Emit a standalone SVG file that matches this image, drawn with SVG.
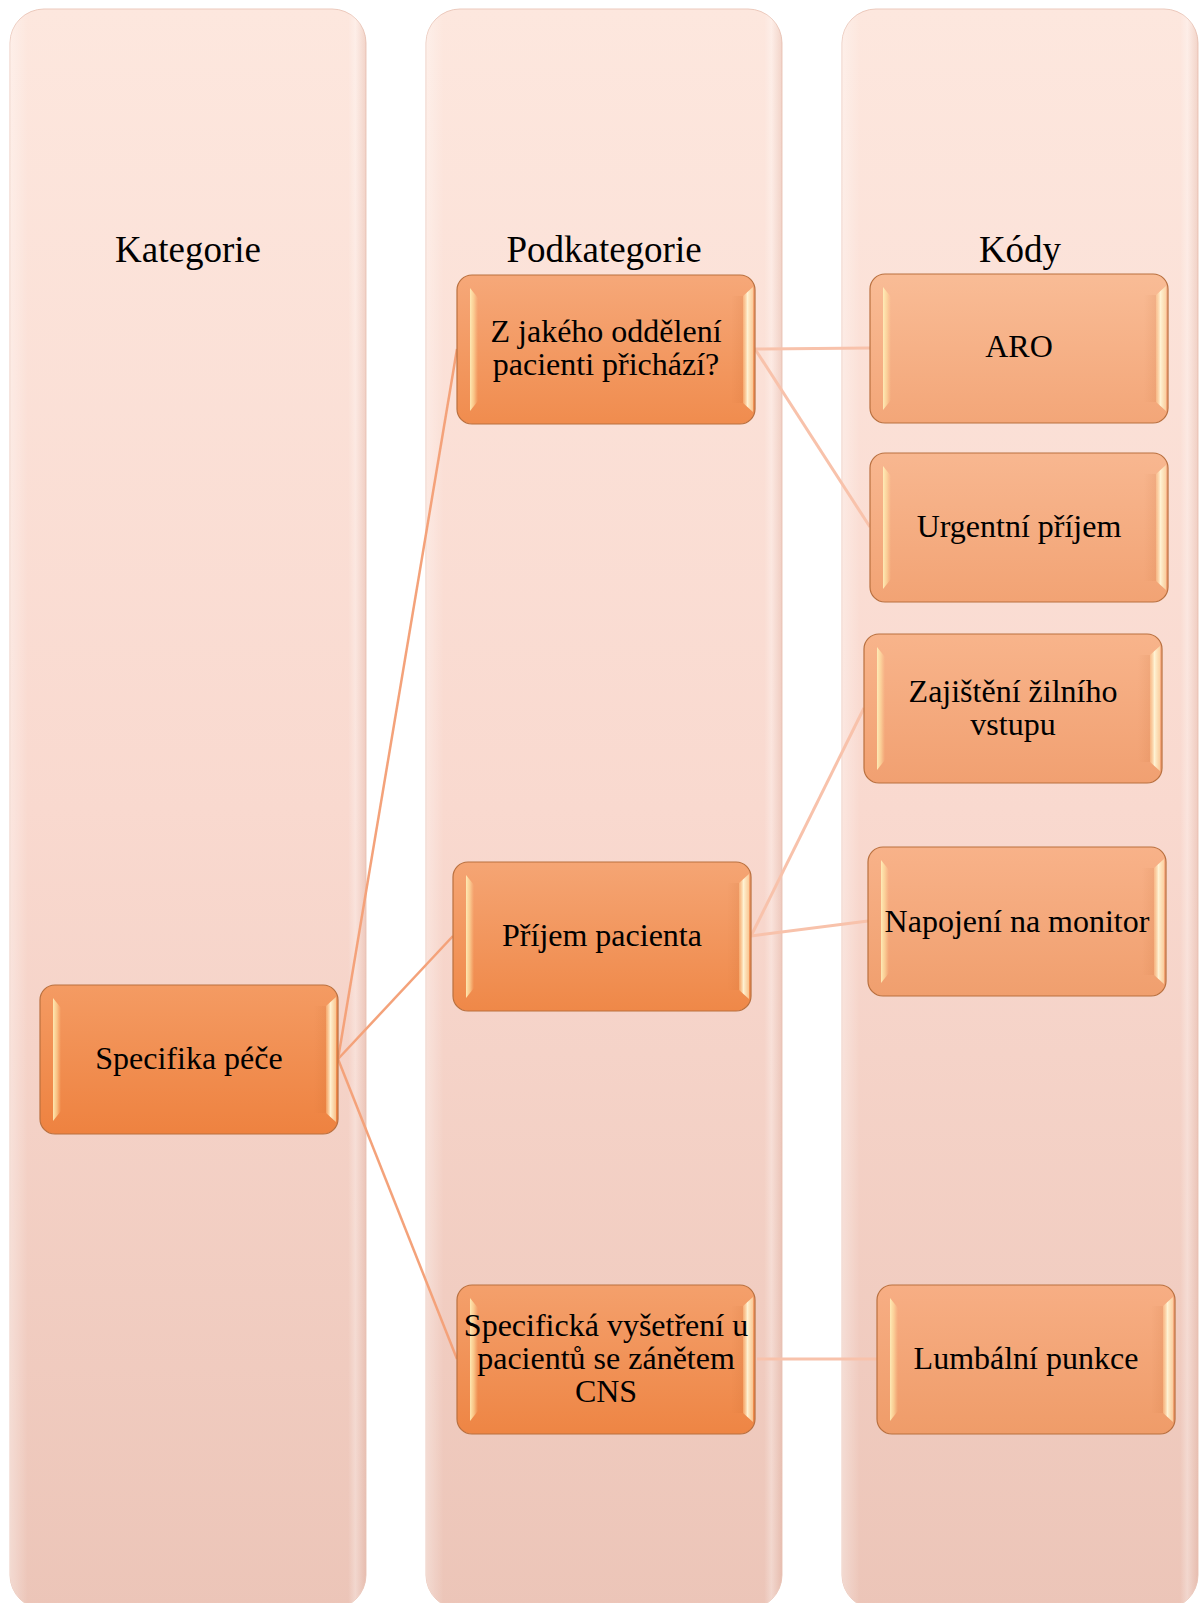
<svg xmlns="http://www.w3.org/2000/svg" xmlns:xlink="http://www.w3.org/1999/xlink" width="1202" height="1603" viewBox="0 0 1202 1603">
<defs>
<style>
.col{fill:url(#colGrad);stroke:#ecc9bc;stroke-width:1}
.colhl{fill:url(#colSide)}
.hdr{font-family:"Liberation Serif","Times New Roman",serif;font-size:37px;fill:#000;text-anchor:middle}
.lbl{font-family:"Liberation Serif","Times New Roman",serif;font-size:32px;fill:#000;text-anchor:middle}
.box{stroke:#b9703f;stroke-width:1.2}
.c1{stroke:#f4a27a;stroke-width:2.5;fill:none}
.c2{stroke:#f8c2ab;stroke-width:3;fill:none}
</style>
<linearGradient id="colGrad" x1="0" y1="0" x2="0" y2="1">
<stop offset="0" stop-color="#fde7de"/>
<stop offset="0.5" stop-color="#f9d9cf"/>
<stop offset="1" stop-color="#ecc5b8"/>
</linearGradient>
<linearGradient id="colSide" x1="0" y1="0" x2="1" y2="0">
<stop offset="0" stop-color="#ffffff" stop-opacity="0.35"/>
<stop offset="0.05" stop-color="#ffffff" stop-opacity="0"/>
<stop offset="0.95" stop-color="#ffffff" stop-opacity="0"/>
<stop offset="0.97" stop-color="#ffffff" stop-opacity="0.3"/>
<stop offset="1" stop-color="#d9a898" stop-opacity="0.3"/>
</linearGradient>
<linearGradient id="gA" x1="0" y1="0" x2="0" y2="1"><stop offset="0" stop-color="#f49b63"/><stop offset="1" stop-color="#ee8240"/></linearGradient>
<linearGradient id="gB" x1="0" y1="0" x2="0" y2="1"><stop offset="0" stop-color="#f6a879"/><stop offset="1" stop-color="#f08c4e"/></linearGradient>
<linearGradient id="gP" x1="0" y1="0" x2="0" y2="1"><stop offset="0" stop-color="#f5a574"/><stop offset="1" stop-color="#ef8848"/></linearGradient>
<linearGradient id="gS" x1="0" y1="0" x2="0" y2="1"><stop offset="0" stop-color="#f4a06c"/><stop offset="1" stop-color="#ee8544"/></linearGradient>
<linearGradient id="gC1" x1="0" y1="0" x2="0" y2="1"><stop offset="0" stop-color="#f9bc96"/><stop offset="1" stop-color="#f3a678"/></linearGradient>
<linearGradient id="gC2" x1="0" y1="0" x2="0" y2="1"><stop offset="0" stop-color="#f8b790"/><stop offset="1" stop-color="#f2a374"/></linearGradient>
<linearGradient id="gC3" x1="0" y1="0" x2="0" y2="1"><stop offset="0" stop-color="#f8b48b"/><stop offset="1" stop-color="#f1a071"/></linearGradient>
<linearGradient id="gC4" x1="0" y1="0" x2="0" y2="1"><stop offset="0" stop-color="#f8b289"/><stop offset="1" stop-color="#f09f6e"/></linearGradient>
<linearGradient id="gC5" x1="0" y1="0" x2="0" y2="1"><stop offset="0" stop-color="#f7ae84"/><stop offset="1" stop-color="#ef9c69"/></linearGradient>
<linearGradient id="hlL" x1="0" y1="0" x2="1" y2="0"><stop offset="0" stop-color="#fff2bc" stop-opacity="0.9"/><stop offset="0.5" stop-color="#ffe6a8" stop-opacity="0.6"/><stop offset="1" stop-color="#ffd9a0" stop-opacity="0"/></linearGradient>
<linearGradient id="hlR" x1="0" y1="0" x2="1" y2="0"><stop offset="0" stop-color="#ffd9a0" stop-opacity="0.3"/><stop offset="0.45" stop-color="#fff6d8" stop-opacity="0.95"/><stop offset="1" stop-color="#ffe8b8" stop-opacity="0.6"/></linearGradient>
<linearGradient id="shR" x1="0" y1="0" x2="1" y2="0"><stop offset="0" stop-color="#b85a20" stop-opacity="0"/><stop offset="1" stop-color="#b85a20" stop-opacity="0.1"/></linearGradient>
<g id="bevel">
<polygon points="13,13 21,23 21,126 13,136" fill="url(#hlL)"/>
<polygon points="274,21 286,21 286,128 274,128" fill="url(#shR)"/>
<polygon points="286,21 296,12 296,137 286,128" fill="url(#hlR)"/>
</g>
</defs>
<rect width="1202" height="1603" fill="#ffffff"/>
<g id="columns">
<g id="col-kategorie">
<rect class="col" x="10" y="9" width="356" height="1600" rx="34"/>
<rect class="colhl" x="10" y="9" width="356" height="1600" rx="34"/>
<text class="hdr" x="188" y="262">Kategorie</text>
</g>
<g id="col-podkategorie">
<rect class="col" x="426" y="9" width="356" height="1600" rx="34"/>
<rect class="colhl" x="426" y="9" width="356" height="1600" rx="34"/>
<text class="hdr" x="604" y="262">Podkategorie</text>
</g>
<g id="col-kody">
<rect class="col" x="842" y="9" width="356" height="1600" rx="34"/>
<rect class="colhl" x="842" y="9" width="356" height="1600" rx="34"/>
<text class="hdr" x="1020" y="262">Kódy</text>
</g>
</g>
<g id="connectors">
<line class="c1" x1="338" y1="1059" x2="457" y2="349"/>
<line class="c1" x1="338" y1="1059" x2="453" y2="936"/>
<line class="c1" x1="338" y1="1059" x2="457" y2="1359"/>
<line class="c2" x1="755" y1="349" x2="870" y2="348"/>
<line class="c2" x1="755" y1="349" x2="870" y2="527"/>
<line class="c2" x1="751" y1="936" x2="864" y2="708"/>
<line class="c2" x1="751" y1="936" x2="868" y2="921"/>
<line class="c2" x1="757" y1="1359" x2="877" y2="1359"/>
</g>
<g id="node-specifika-pece" transform="translate(40,985)">
<rect class="box" width="298" height="149" rx="15" fill="url(#gA)"/>
<use xlink:href="#bevel" href="#bevel"/>
<text class="lbl" x="149" y="84">Specifika péče</text>
</g>
<g id="node-z-jakeho" transform="translate(457,275)">
<rect class="box" width="298" height="149" rx="15" fill="url(#gB)"/>
<use xlink:href="#bevel" href="#bevel"/>
<text class="lbl" x="149" y="67">Z jakého oddělení</text>
<text class="lbl" x="149" y="100">pacienti přichází?</text>
</g>
<g id="node-prijem-pacienta" transform="translate(453,862)">
<rect class="box" width="298" height="149" rx="15" fill="url(#gP)"/>
<use xlink:href="#bevel" href="#bevel"/>
<text class="lbl" x="149" y="84">Příjem pacienta</text>
</g>
<g id="node-specificka" transform="translate(457,1285)">
<rect class="box" width="298" height="149" rx="15" fill="url(#gS)"/>
<use xlink:href="#bevel" href="#bevel"/>
<text class="lbl" x="149" y="51">Specifická vyšetření u</text>
<text class="lbl" x="149" y="84">pacientů se zánětem</text>
<text class="lbl" x="149" y="117">CNS</text>
</g>
<g id="node-aro" transform="translate(870,274)">
<rect class="box" width="298" height="149" rx="15" fill="url(#gC1)"/>
<use xlink:href="#bevel" href="#bevel"/>
<text class="lbl" x="149" y="83">ARO</text>
</g>
<g id="node-urgentni" transform="translate(870,453)">
<rect class="box" width="298" height="149" rx="15" fill="url(#gC2)"/>
<use xlink:href="#bevel" href="#bevel"/>
<text class="lbl" x="149" y="84">Urgentní příjem</text>
</g>
<g id="node-zajisteni" transform="translate(864,634)">
<rect class="box" width="298" height="149" rx="15" fill="url(#gC3)"/>
<use xlink:href="#bevel" href="#bevel"/>
<text class="lbl" x="149" y="68">Zajištění žilního</text>
<text class="lbl" x="149" y="101">vstupu</text>
</g>
<g id="node-napojeni" transform="translate(868,847)">
<rect class="box" width="298" height="149" rx="15" fill="url(#gC4)"/>
<use xlink:href="#bevel" href="#bevel"/>
<text class="lbl" x="149" y="85">Napojení na monitor</text>
</g>
<g id="node-lumbalni" transform="translate(877,1285)">
<rect class="box" width="298" height="149" rx="15" fill="url(#gC5)"/>
<use xlink:href="#bevel" href="#bevel"/>
<text class="lbl" x="149" y="84">Lumbální punkce</text>
</g>
</svg>
